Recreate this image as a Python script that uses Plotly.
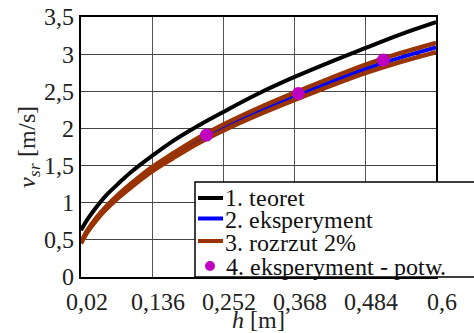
import base64
import glob
import os
import plotly.graph_objects as go

# ---- data ----
h = [0.02, 0.03, 0.045, 0.06, 0.08, 0.1, 0.136, 0.17, 0.21, 0.252, 0.31, 0.368, 0.426, 0.484, 0.54, 0.6]
v_teoret = [0.63, 0.77, 0.94, 1.09, 1.25, 1.40, 1.63, 1.83, 2.03, 2.22, 2.47, 2.69, 2.89, 3.08, 3.26, 3.43]
v_eksp = [0.46, 0.61, 0.78, 0.92, 1.08, 1.22, 1.45, 1.63, 1.83, 2.01, 2.23, 2.43, 2.62, 2.80, 2.95, 3.09]
SPREAD = 0.02  # "rozrzut 2%"
v_low = [v * (1 - SPREAD) for v in v_eksp]
v_high = [v * (1 + SPREAD) for v in v_eksp]

h_potw = [0.225, 0.375, 0.514]
v_potw = [1.91, 2.47, 2.92]

x_ticks = [0.02, 0.136, 0.252, 0.368, 0.484, 0.6]
x_ticktext = ["0,02", "0,136", "0,252", "0,368", "0,484", "0,6"]
y_ticks = [0, 0.5, 1, 1.5, 2, 2.5, 3, 3.5]
y_ticktext = ["0", "0,5", "1", "1,5", "2", "2,5", "3", "3,5"]

legend_labels = ["1. teoret", "2. eksperyment", "3. rozrzut 2%", "4. eksperyment - potw."]

BLACK = "#000000"
BLUE = "#0000ff"
BROWN = "#993300"
MAGENTA = "#c000c0"
FS = 24


# ---- embed the local Liberation Serif files (if found) as a web font ----
def find_font(name):
    for base in ["/usr/share/fonts", "/usr/local/share/fonts", os.path.expanduser("~/.fonts"),
                 os.path.expanduser("~/.local/share/fonts")]:
        hits = glob.glob(os.path.join(base, "**", name), recursive=True)
        if hits:
            return hits[0]
    return None


css_parts = []
for fname, style in [("LiberationSerif-Regular.ttf", "normal"), ("LiberationSerif-Italic.ttf", "italic")]:
    path = find_font(fname)
    if path:
        with open(path, "rb") as fh:
            b64 = base64.b64encode(fh.read()).decode("ascii")
        css_parts.append("@font-face{font-family:'LSEmb';src:url(data:font/ttf;base64," + b64 +
                         ") format('truetype');font-weight:400;font-style:" + style + ";}")
post_js = ""
if css_parts:
    post_js = ("try{var st=document.createElement('style');st.textContent=\"" + "".join(css_parts) +
               "\";document.head.appendChild(st);}catch(e){}")
FONT = "LSEmb, Liberation Serif, serif" if css_parts else "Liberation Serif"

fig = go.Figure()
fig.add_trace(go.Scatter(x=h, y=v_teoret, mode="lines", line=dict(color=BLACK, width=4, shape="spline"), showlegend=False))
fig.add_trace(go.Scatter(x=h, y=v_eksp, mode="lines", line=dict(color=BLUE, width=4, shape="spline"), showlegend=False))
fig.add_trace(go.Scatter(x=h, y=v_low, mode="lines", line=dict(color=BROWN, width=4.5, shape="spline"), showlegend=False))
fig.add_trace(go.Scatter(x=h, y=v_high, mode="lines", line=dict(color=BROWN, width=4.5, shape="spline"), showlegend=False))
fig.add_trace(go.Scatter(x=h_potw, y=v_potw, mode="markers", marker=dict(color=MAGENTA, size=13), showlegend=False))

# ---- manual legend (pixel positions converted to paper coords) ----
L, R, T, B = 81, 436, 17, 277
def px(x):
    return (x - L) / (R - L)
def py(y):
    return (B - y) / (B - T)

shapes = [dict(type="rect", xref="paper", yref="paper", x0=px(195), x1=px(480), y0=py(277), y1=py(182),
               line=dict(color="black", width=1.5), fillcolor="white", layer="above")]
row_y = [198, 218.5, 241, 266]
row_colors = [BLACK, BLUE, BROWN]
for yy, c in zip(row_y[:3], row_colors):
    shapes.append(dict(type="line", xref="paper", yref="paper", x0=px(198), x1=px(223), y0=py(yy), y1=py(yy),
                       line=dict(color=c, width=4), layer="above"))
shapes.append(dict(type="circle", xref="paper", yref="paper", x0=px(205), x1=px(215), y0=py(row_y[3] + 5), y1=py(row_y[3] - 5),
                   line=dict(color=MAGENTA, width=0), fillcolor=MAGENTA, layer="above"))

annotations = []
text_y = [198, 220, 243, 267]
for yy, lab in zip(text_y, legend_labels):
    annotations.append(dict(xref="paper", yref="paper", x=px(224), y=py(yy), text=lab, showarrow=False,
                            xanchor="left", yanchor="middle", font=dict(family=FONT, size=FS, color="#111")))

fig.update_layout(
    width=474, height=333,
    margin=dict(l=L, r=474 - R, t=T, b=333 - B),
    paper_bgcolor="white", plot_bgcolor="white",
    font=dict(family=FONT, size=FS, color="#222"),
    shapes=shapes, annotations=annotations,
    showlegend=False,
)
fig.update_xaxes(range=[0.02, 0.6], tickvals=x_ticks, ticktext=x_ticktext, showgrid=True, gridcolor="#555", gridwidth=1,
                 showline=True, linecolor="black", linewidth=1.5, mirror=True, ticks="", ticklabelshift=6,
                 ticklabelstandoff=2, automargin=False, tickfont=dict(family=FONT, size=FS),
                 title=dict(text="<i>h</i> [m]", standoff=2, font=dict(family=FONT, size=FS)), zeroline=False)
fig.update_yaxes(range=[0, 3.5], tickvals=y_ticks, ticktext=y_ticktext, showgrid=True, gridcolor="#444", gridwidth=1,
                 showline=True, linecolor="black", linewidth=1.5, mirror=True, ticks="", automargin=False,
                 tickfont=dict(family=FONT, size=FS),
                 title=dict(text="<i>v</i><sub><i>sr</i></sub> [m/s]", standoff=2, font=dict(family=FONT, size=FS)), zeroline=False)

if post_js:
    fig.write_html("out.html", post_script=[post_js])
else:
    fig.write_html("out.html")
